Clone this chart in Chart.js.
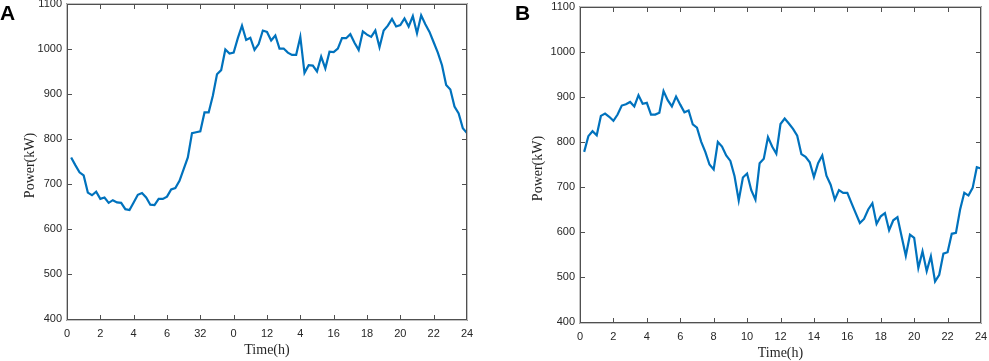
<!DOCTYPE html>
<html>
<head>
<meta charset="utf-8">
<script src="https://cdn.jsdelivr.net/npm/chart.js@4.4.1/dist/chart.umd.min.js"></script>
<style>
  html, body { margin: 0; padding: 0; background: #fff; }
  #page { position: relative; width: 989px; height: 361px; overflow: hidden; }
  .panel { position: absolute; top: 0; height: 361px; }
  .letter { position: absolute; font: bold 21px "Liberation Sans", Arial, sans-serif; color: #000; line-height: 1; }
</style>
</head>
<body>
<div id="page">
  <div class="panel" style="left:0;width:480px"><canvas id="chartA"></canvas></div>
  <div class="panel" style="left:490px;width:499px"><canvas id="chartB"></canvas></div>
  <div class="letter" style="left:0;top:2px">A</div>
  <div class="letter" style="left:515px;top:2px">B</div>
</div>
<script>
// time of day (h), 15 min steps
const TIME_H = [
  0.25, 0.5, 0.75, 1, 1.25, 1.5, 1.75, 2, 2.25, 2.5, 2.75, 3,
  3.25, 3.5, 3.75, 4, 4.25, 4.5, 4.75, 5, 5.25, 5.5, 5.75, 6,
  6.25, 6.5, 6.75, 7, 7.25, 7.5, 7.75, 8, 8.25, 8.5, 8.75, 9,
  9.25, 9.5, 9.75, 10, 10.25, 10.5, 10.75, 11, 11.25, 11.5, 11.75, 12,
  12.25, 12.5, 12.75, 13, 13.25, 13.5, 13.75, 14, 14.25, 14.5, 14.75, 15,
  15.25, 15.5, 15.75, 16, 16.25, 16.5, 16.75, 17, 17.25, 17.5, 17.75, 18,
  18.25, 18.5, 18.75, 19, 19.25, 19.5, 19.75, 20, 20.25, 20.5, 20.75, 21,
  21.25, 21.5, 21.75, 22, 22.25, 22.5, 22.75, 23, 23.25, 23.5, 23.75, 24
];

// panel A load (kW)
const LOAD_A = [
  759, 742, 726, 719, 681, 675, 683, 667, 670, 658, 664, 659,
  658, 644, 642, 659, 676, 680, 670, 654, 653, 667, 667, 672,
  688, 691, 707, 733, 759, 813, 815, 817, 859, 859, 896, 944,
  953, 999, 990, 992, 1024, 1052, 1020, 1025, 998, 1011, 1041, 1038,
  1019, 1030, 1001, 1001, 992, 987, 987, 1027, 947, 964, 963, 950,
  983, 957, 994, 993, 1001, 1024, 1024, 1033, 1014, 998, 1039, 1032,
  1027, 1041, 1004, 1041, 1052, 1067, 1050, 1053, 1068, 1050, 1073, 1035,
  1075, 1055, 1038, 1015, 992, 964, 920, 910, 872, 857, 824, 813
];

// panel B load (kW)
const LOAD_B = [
  778, 813, 824, 815, 858, 863, 856, 847, 861, 881, 884, 889,
  879, 904, 885, 887, 861, 861, 865, 913, 893, 879, 901, 883,
  866, 870, 839, 832, 801, 778, 750, 739, 800, 790, 770, 758,
  724, 670, 721, 730, 693, 672, 753, 763, 811, 790, 774, 840,
  852, 841, 829, 814, 773, 767, 755, 722, 753, 770, 725, 705,
  672, 693, 687, 687, 664, 642, 620, 629, 650, 664, 618, 635,
  642, 604, 626, 633, 590, 547, 594, 587, 520, 557, 513, 546,
  490, 505, 552, 555, 596, 598, 650, 687, 681, 698, 744, 741
];

// x tick labels as printed in the figure
const X_TICKS_A = ['0', '2', '4', '6', '32', '0', '12', '4', '16', '18', '20', '22', '24'];
const X_TICKS_B = ['0', '2', '4', '6', '8', '10', '12', '14', '16', '18', '20', '22', '24'];

const LINE_COLOR = '#0072BD';
const AXIS_COLOR = '#505050';
const TEXT_COLOR = '#262626';

// box, inward ticks and axis titles (matlab look)
const framePlugin = {
    id: 'frame',
    afterDraw(chart) {
        const o = chart.options.plugins.frame;
        const { ctx, chartArea: a, scales: { x, y } } = chart;
        const L = Math.round(a.left), R = Math.round(a.right) - 1;
        const T = Math.round(a.top), B = Math.round(a.bottom);
        ctx.save();
        // soft outer pixel, like the blurred axes of the source figure
        ctx.fillStyle = 'rgba(80,80,80,0.35)';
        ctx.fillRect(L - 1, T - 1, R - L + 3, 1);
        ctx.fillRect(L - 1, B + 1, R - L + 3, 1);
        ctx.fillRect(L - 1, T - 1, 1, B - T + 3);
        ctx.fillRect(R + 1, T - 1, 1, B - T + 3);
        ctx.fillStyle = AXIS_COLOR;
        ctx.fillRect(L, T, R - L + 1, 1);
        ctx.fillRect(L, B, R - L + 1, 1);
        ctx.fillRect(L, T, 1, B - T + 1);
        ctx.fillRect(R, T, 1, B - T + 1);
        x.ticks.forEach(t => {
            const px = Math.min(R, Math.round(x.getPixelForValue(t.value)));
            ctx.fillRect(px, B - 4, 1, 4);
            ctx.fillRect(px, T + 1, 1, 4);
        });
        y.ticks.forEach(t => {
            const py = Math.min(B, Math.round(y.getPixelForValue(t.value)));
            ctx.fillRect(L + 1, py, 4, 1);
            ctx.fillRect(R - 4, py, 4, 1);
        });

        ctx.fillStyle = TEXT_COLOR;
        ctx.font = '14px "Liberation Serif", "Times New Roman", serif';
        ctx.textAlign = 'center';
        ctx.textBaseline = 'middle';
        ctx.fillText('Time(h)', (a.left + a.right) / 2, a.bottom + o.xTitleGap);
        ctx.translate(a.left - o.yTitleGap, (a.top + a.bottom) / 2 + 4);
        ctx.rotate(-Math.PI / 2);
        ctx.fillText('Power(kW)', 0, 0);
        ctx.restore();
    }
};

function buildPanel(id, values, xLabels, geo) {
    const tickFont = { family: '"Liberation Sans", Arial, sans-serif', size: 11 };
    return new Chart(document.getElementById(id), {
        type: 'line',
        data: {
            datasets: [{
                data: TIME_H.map((t, i) => ({ x: t, y: values[i] })),
                borderColor: LINE_COLOR,
                borderWidth: 2.2,
                pointRadius: 0,
                tension: 0,
                fill: false
            }]
        },
        options: {
            responsive: true,
            maintainAspectRatio: false,
            animation: false,
            devicePixelRatio: 1,
            layout: { padding: { top: geo.top, right: geo.right, left: 0, bottom: 0 } },
            plugins: {
                legend: { display: false },
                tooltip: { enabled: false },
                frame: { xTitleGap: 31, yTitleGap: geo.yTitleGap }
            },
            scales: {
                x: {
                    type: 'linear',
                    min: 0, max: 24,
                    grid: { display: false, drawTicks: false },
                    border: { display: false },
                    ticks: {
                        stepSize: 2,
                        autoSkip: false,
                        maxRotation: 0,
                        padding: 8,
                        color: TEXT_COLOR,
                        font: tickFont,
                        callback: (v, i) => xLabels[i]
                    },
                    afterFit: s => { s.height = geo.xHeight; s.paddingLeft = 0; s.paddingRight = 0; }
                },
                y: {
                    min: 400, max: 1100,
                    grid: { display: false, drawTicks: false },
                    border: { display: false },
                    ticks: { stepSize: 100, padding: 5, color: TEXT_COLOR, font: tickFont, callback: v => String(v) },
                    afterFit: s => { s.width = geo.yWidth; s.paddingTop = 0; s.paddingBottom = 0; }
                }
            }
        },
        plugins: [framePlugin]
    });
}

buildPanel('chartA', LOAD_A, X_TICKS_A, { top: 4, right: 13, yWidth: 67, xHeight: 42, yTitleGap: 37 });
buildPanel('chartB', LOAD_B, X_TICKS_B, { top: 7, right: 8, yWidth: 90, xHeight: 39, yTitleGap: 42 });
</script>
</body>
</html>
